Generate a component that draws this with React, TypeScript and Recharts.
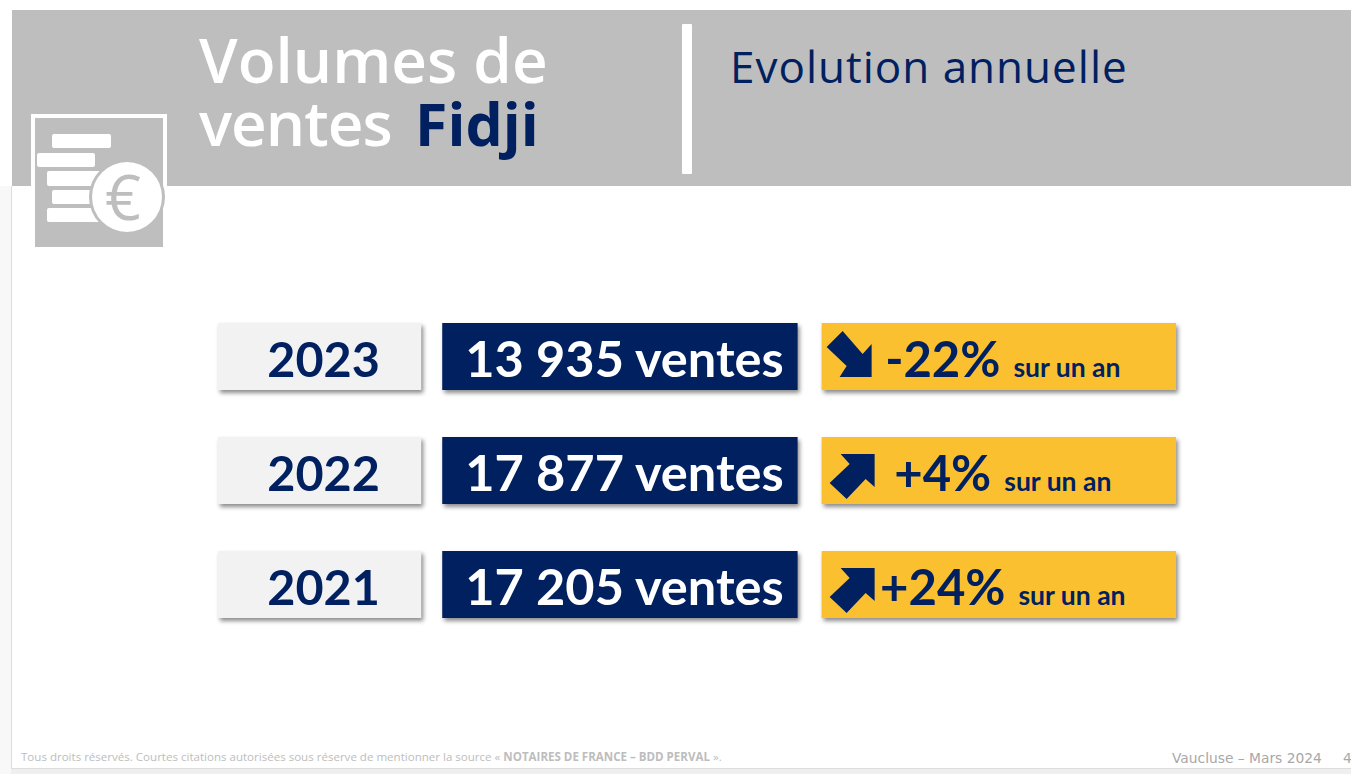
import { BarChart, Bar, XAxis, YAxis, LabelList } from 'recharts';

const years = ['2023', '2022', '2021'];
const sales = [13935, 17877, 17205];
const changes = [-22, 4, 24];

const NAVY = '#002060';
const GOLD = '#fbc02f';
const BAND = '#bebebe';
const LATO = 'Lato, sans-serif';
const OPEN = '"Open Sans", sans-serif';

// the slide is a table: each row is a stack of cells of equal width
const cellYear = 203;
const gapA = 21;
const cellSales = 355;
const gapB = 24;
const cellChange = 354;

const rows = years.map((year, i) => ({
  year,
  sales: sales[i],
  change: changes[i],
  cellYear,
  gapA,
  cellSales,
  gapB,
  cellChange,
}));

const fmtSales = (v: number) => {
  const s = String(v);
  return s.slice(0, -3) + ' ' + s.slice(-3) + ' ventes';
};
const fmtChange = (v: number) => (v > 0 ? '+' : '') + v + '%';

const arrowDown = '21,8 5,24 25,43 18,54 50,54 50,21 41,31';
const arrowUp = '25,62 8,46 28,27 19,17 53,17 53,50 44,42';

function Cell({ x, y, width, height, fill }: any) {
  return (
    <rect
      x={x}
      y={y}
      width={width}
      height={height}
      fill={fill}
      style={{ filter: 'drop-shadow(2px 3px 2px rgba(0,0,0,0.45))' }}
    />
  );
}

function YearLabel({ x, y, width, index }: any) {
  return (
    <text x={x + width / 2 + 4} y={y + 53.5} textAnchor="middle" fontFamily={LATO} fontWeight={700} fontSize={48.5} fill={NAVY}>
      {years[index]}
    </text>
  );
}

function SalesLabel({ x, y, index }: any) {
  return (
    <text x={x + 23} y={y + 53.5} fontFamily={LATO} fontWeight={700} fontSize={50.5} fill="#fff">
      {fmtSales(sales[index])}
    </text>
  );
}

function ChangeLabel({ x, y, width, index }: any) {
  const v = changes[index];
  return (
    <g>
      <polygon points={v < 0 ? arrowDown : arrowUp} transform={`translate(${x},${y})`} fill={NAVY} />
      <text x={x + width / 2 + 4} y={y + 53.5} textAnchor="middle" fontFamily={LATO} fontWeight={700} fill={NAVY}>
        <tspan fontSize={49}>{fmtChange(v)}</tspan>
        <tspan fontSize={26.5} dx={13}>sur un an</tspan>
      </text>
    </g>
  );
}

function Slide() {
  return (
    <svg width={1351} height={774} style={{ position: 'absolute', left: 0, top: 0 }}>
      <rect x={0} y={769} width={1351} height={5} fill="#efefef" />
      <rect x={0} y={186} width={11} height={588} fill="#f8f8f8" />
      <line x1={11.5} y1={186} x2={11.5} y2={769} stroke="#dddddd" />
      <line x1={11} y1={768.5} x2={1351} y2={768.5} stroke="#dddddd" />
      <rect x={12} y={10} width={1339} height={176} fill={BAND} />
      <text x={199} y={83} fontFamily={OPEN} fontWeight={600} fontSize={62} fill="#fff">Volumes de</text>
      <text x={199} y={146} fontFamily={OPEN} fontWeight={600} fontSize={62} letterSpacing={-1} fill="#fff">ventes</text>
      <text x={415} y={146} fontFamily={OPEN} fontWeight={700} fontSize={59} fill={NAVY}>Fidji</text>
      <rect x={682} y={24} width={10} height={150} rx={1} fill="#fff" />
      <text x={730} y={83} fontFamily={OPEN} fontSize={44} letterSpacing={1} fill={NAVY}>Evolution annuelle</text>

      <rect x={33} y={116} width={132} height={133} fill={BAND} stroke="#fff" strokeWidth={4} />
      <rect x={52} y={134} width={59} height={14} rx={2} fill="#fff" />
      <rect x={37} y={153} width={58} height={14} rx={2} fill="#fff" />
      <rect x={47} y={171} width={55} height={15} rx={2} fill="#fff" />
      <rect x={52} y={190} width={45} height={14} rx={2} fill="#fff" />
      <rect x={47} y={208} width={55} height={14} rx={2} fill="#fff" />
      <circle cx={127} cy={197} r={38} fill={BAND} />
      <circle cx={127} cy={197} r={35} fill="#fff" />
      <text x={123} y={220} textAnchor="middle" fontFamily={OPEN} fontSize={63} fill={BAND}>€</text>

      <text x={21} y={761} fontFamily={OPEN} fontSize={11.55} fill="#bdbdbd">
        Tous droits réservés. Courtes citations autorisées sous réserve de mentionner la source « <tspan fontWeight={700}>NOTAIRES DE FRANCE – BDD PERVAL</tspan> ».
      </text>
      <text x={1172} y={763} fontFamily="DejaVu Sans, sans-serif" fontSize={13.8} fill="#a8a8a8">Vaucluse – Mars 2024</text>
      <text x={1343} y={763} fontFamily="DejaVu Sans, sans-serif" fontSize={13.8} fill="#a8a8a8">4</text>
    </svg>
  );
}

export default function App() {
  return (
    <div style={{ position: 'fixed', left: 0, top: 0, width: 1351, height: 774, background: '#fff', overflow: 'hidden' }}>
      <Slide />
      <div style={{ position: 'absolute', left: 0, top: 0 }}>
        <BarChart
          width={1351}
          height={774}
          data={rows}
          layout="vertical"
          barSize={67}
          margin={{ top: 299, right: 175, bottom: 133, left: 218 }}
        >
          <XAxis type="number" domain={[0, 957]} hide />
          <YAxis type="category" dataKey="year" hide />
          <Bar dataKey="cellYear" stackId="row" fill="#f2f2f2" shape={<Cell />} isAnimationActive={false}>
            <LabelList dataKey="year" content={<YearLabel />} />
          </Bar>
          <Bar dataKey="gapA" stackId="row" fill="none" isAnimationActive={false} />
          <Bar dataKey="cellSales" stackId="row" fill={NAVY} shape={<Cell />} isAnimationActive={false}>
            <LabelList dataKey="sales" content={<SalesLabel />} />
          </Bar>
          <Bar dataKey="gapB" stackId="row" fill="none" isAnimationActive={false} />
          <Bar dataKey="cellChange" stackId="row" fill={GOLD} shape={<Cell />} isAnimationActive={false}>
            <LabelList dataKey="change" content={<ChangeLabel />} />
          </Bar>
        </BarChart>
      </div>
    </div>
  );
}
